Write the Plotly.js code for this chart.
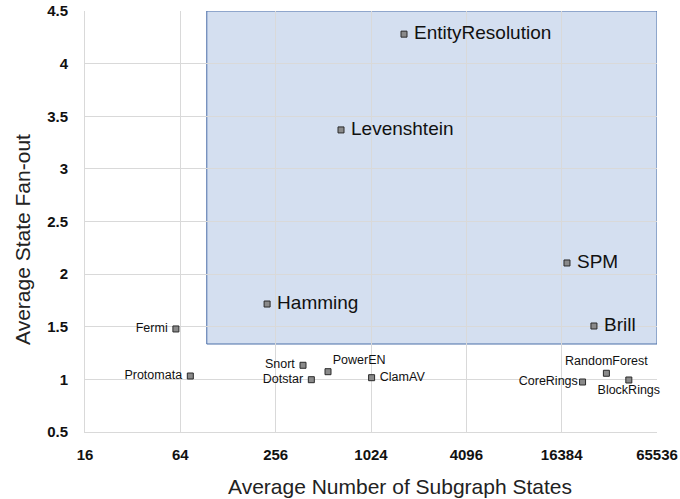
<!DOCTYPE html>
<html>
<head>
<meta charset="utf-8">
<script src="https://cdn.plot.ly/plotly-3.0.1.min.js"></script>
<style>html,body{margin:0;padding:0;background:#fff}#chart{width:680px;height:499px}</style>
</head>
<body>
<div id="chart"></div>
<script>
const names = ["EntityResolution","Levenshtein","Hamming","SPM","Brill","Fermi","Protomata","Snort","Dotstar","PowerEN","ClamAV","CoreRings","RandomForest","BlockRings"];
const subgraphStates = [1655, 662, 226, 17700, 26200, 60, 74, 381, 430, 548, 1033, 22200, 31400, 43500];
const fanOut = [4.28, 3.37, 1.716, 2.106, 1.507, 1.479, 1.032, 1.134, 0.997, 1.073, 1.016, 0.975, 1.058, 0.994];
const labelPos = ["middle right","middle right","middle right","middle right","middle right","middle left","middle left","middle left","middle left","top right","middle right","middle left","top center","bottom center"];
const labelTemplate = [" %{text}"," %{text}"," %{text}"," %{text}"," %{text}","%{text} ","%{text} ","%{text} ","%{text} ","%{text}"," %{text}","%{text}","%{text}","%{text}"];
const labelSize = [19,19,19,19,19,12.5,12.5,12.5,12.5,12.5,12.5,12.5,12.5,12.5];
const tickVals = [16, 64, 256, 1024, 4096, 16384, 65536];
const tickText = ["16","64","256","1024","4096","16384","65536"];
const yTickVals = [0.5,1,1.5,2,2.5,3,3.5,4,4.5];
const yTickText = ["0.5","1","1.5","2","2.5","3","3.5","4","4.5"];
const regionX = [94, 65536];
const regionY = [1.336, 4.5];

const FONT = "Liberation Sans, Arial, Helvetica, sans-serif";

const trace = {
  x: subgraphStates, y: fanOut, text: names,
  mode: "markers+text", type: "scatter",
  textposition: labelPos,
  texttemplate: labelTemplate,
  textfont: {family: FONT, size: labelSize, color: "#111"},
  marker: {symbol: "square", size: 6, color: "#8a8a8a", line: {color: "#2a2a2a", width: 1}},
  cliponaxis: false, hoverinfo: "skip"
};

const layout = {
  width: 680, height: 499,
  margin: {l: 85, r: 23, t: 11, b: 67},
  paper_bgcolor: "#fff", plot_bgcolor: "#fff",
  showlegend: false,
  font: {family: FONT, color: "#111"},
  xaxis: {
    type: "log", range: [Math.log10(16), Math.log10(65536)],
    tickvals: tickVals, ticktext: tickText,
    tickfont: {size: 15, weight: "bold", color: "#111"},
    showgrid: true, gridcolor: "#d9d9d9", gridwidth: 1,
    showline: true, linecolor: "#d9d9d9", zeroline: false,
    ticks: "outside", ticklen: 9, tickcolor: "rgba(0,0,0,0)"
  },
  yaxis: {
    range: [0.5, 4.5],
    tickvals: yTickVals, ticktext: yTickText,
    tickfont: {size: 15, weight: "bold", color: "#111"},
    showgrid: true, gridcolor: "#d9d9d9", gridwidth: 1,
    showline: true, linecolor: "#d9d9d9", zeroline: false,
    ticks: "outside", ticklen: 13, tickcolor: "rgba(0,0,0,0)"
  },
  annotations: [
    {text: "Average Number of Subgraph States", xref: "paper", yref: "paper",
     x: (400-85)/572, y: -(486-432)/421, xanchor: "center", yanchor: "middle",
     showarrow: false, font: {family: FONT, size: 21, color: "#222"}},
    {text: "Average State Fan-out", xref: "paper", yref: "paper",
     x: -(85-22)/572, y: (432-240)/421, xanchor: "center", yanchor: "middle", textangle: -90,
     showarrow: false, font: {family: FONT, size: 21, color: "#222"}}
  ],
  shapes: [{
    type: "rect", xref: "x", yref: "y", layer: "below",
    x0: regionX[0], x1: regionX[1], y0: regionY[0], y1: regionY[1],
    fillcolor: "#d4dff0", line: {color: "#4a6ea8", width: 1}
  }]
};

Plotly.newPlot("chart", [trace], layout, {staticPlot: true, displayModeBar: false});
</script>
</body>
</html>
